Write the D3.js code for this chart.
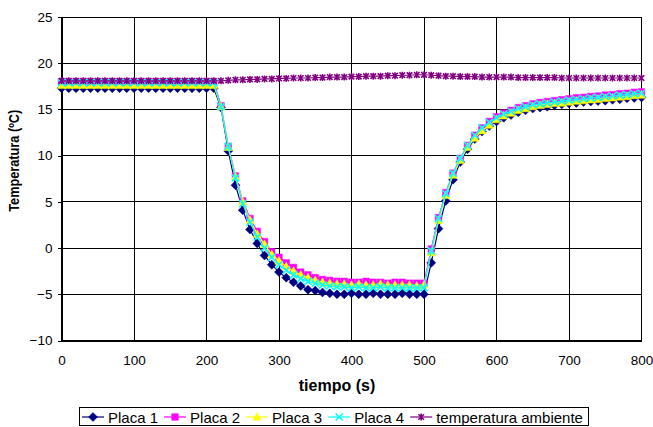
<!DOCTYPE html>
<html>
<head>
<meta charset="utf-8">
<script src="https://cdn.jsdelivr.net/npm/d3@7"></script>
<style>
  body { margin: 0; background: #fff; }
  svg { display: block; font-family: Arial, "Liberation Sans", sans-serif; }
</style>
</head>
<body>
<script>
var w = 653;
var h = 427;

// tiempo (s)
var tiempo = [
  0, 10, 20, 30, 40, 50, 60, 70, 80, 90, 100, 110, 120, 130, 140, 150, 160, 170, 180, 190,
  200, 210, 220, 230, 240, 250, 260, 270, 280, 290, 300, 310, 320, 330, 340, 350, 360, 370, 380, 390,
  400, 410, 420, 430, 440, 450, 460, 470, 480, 490, 500, 510, 520, 530, 540, 550, 560, 570, 580, 590,
  600, 610, 620, 630, 640, 650, 660, 670, 680, 690, 700, 710, 720, 730, 740, 750, 760, 770, 780, 790,
  800
];

var placa1 = [
  17.3, 17.3, 17.3, 17.3, 17.3, 17.3, 17.3, 17.3, 17.3, 17.3, 17.3, 17.3, 17.3, 17.3, 17.3, 17.3, 17.3, 17.3, 17.3, 17.3,
  17.3, 17.3, 15.2, 10.5, 6.8, 4.1, 2.0, 0.5, -0.8, -1.8, -2.6, -3.2, -3.7, -4.1, -4.5, -4.6, -4.8, -4.9, -5.0, -5.0,
  -4.9, -5.0, -5.0, -4.9, -5.0, -5.0, -5.0, -4.9, -5.0, -5.0, -5.0, -1.6, 2.1, 5.1, 7.4, 9.3, 10.7, 11.8, 12.6, 13.2,
  13.7, 14.1, 14.4, 14.7, 14.9, 15.1, 15.2, 15.3, 15.45, 15.55, 15.65, 15.7, 15.8, 15.85, 15.9, 15.95, 16.05, 16.1, 16.2, 16.25,
  16.3
];

var placa2 = [
  18.0, 18.0, 18.0, 18.0, 18.0, 18.0, 18.0, 18.0, 18.0, 18.0, 18.0, 18.0, 18.0, 18.0, 18.0, 18.0, 18.0, 18.0, 18.0, 18.0,
  18.0, 18.0, 15.4, 11.0, 7.8, 5.1, 3.2, 1.8, 0.7, -0.4, -1.0, -1.6, -2.1, -2.6, -2.9, -3.2, -3.4, -3.5, -3.6, -3.6,
  -3.7, -3.7, -3.6, -3.7, -3.7, -3.8, -3.7, -3.7, -3.8, -3.8, -3.8, -0.1, 3.3, 6.0, 8.1, 9.7, 11.1, 12.2, 13.0, 13.7,
  14.2, 14.6, 14.9, 15.2, 15.4, 15.6, 15.75, 15.85, 15.95, 16.05, 16.15, 16.25, 16.3, 16.4, 16.45, 16.55, 16.6, 16.7, 16.75, 16.85,
  16.9
];

var placa3 = [
  17.6, 17.6, 17.6, 17.6, 17.6, 17.6, 17.6, 17.6, 17.6, 17.6, 17.6, 17.6, 17.6, 17.6, 17.6, 17.6, 17.6, 17.6, 17.6, 17.6,
  17.6, 17.6, 15.3, 10.9, 7.7, 5.0, 3.0, 1.5, 0.4, -0.7, -1.4, -2.0, -2.5, -2.9, -3.2, -3.5, -3.7, -3.8, -3.9, -3.9,
  -4.0, -3.9, -4.0, -4.0, -3.9, -4.0, -4.0, -4.0, -4.0, -4.1, -4.0, -0.5, 3.0, 5.7, 7.9, 9.5, 10.9, 11.9, 12.7, 13.3,
  13.9, 14.3, 14.6, 14.9, 15.1, 15.3, 15.45, 15.55, 15.65, 15.7, 15.8, 15.9, 15.95, 16.05, 16.1, 16.2, 16.25, 16.35, 16.4, 16.5,
  16.55
];

var placa4 = [
  17.9, 17.9, 17.9, 17.9, 17.9, 17.9, 17.9, 17.9, 17.9, 17.9, 17.9, 17.9, 17.9, 17.9, 17.9, 17.9, 17.9, 17.9, 17.9, 17.9,
  17.9, 17.9, 15.3, 11.0, 7.6, 4.8, 2.8, 1.2, 0.0, -1.0, -1.8, -2.4, -2.9, -3.3, -3.6, -3.8, -4.0, -4.1, -4.2, -4.2,
  -4.3, -4.2, -4.3, -4.3, -4.2, -4.3, -4.3, -4.3, -4.3, -4.3, -4.3, -0.3, 3.2, 5.9, 8.1, 9.7, 11.1, 12.2, 13.0, 13.6,
  14.1, 14.5, 14.8, 15.1, 15.3, 15.5, 15.6, 15.7, 15.8, 15.9, 16.0, 16.1, 16.15, 16.25, 16.3, 16.4, 16.45, 16.55, 16.6, 16.7,
  16.75
];

var ambiente = [
  18.1, 18.1, 18.1, 18.1, 18.1, 18.1, 18.1, 18.1, 18.1, 18.1, 18.1, 18.1, 18.1, 18.1, 18.1, 18.1, 18.1, 18.1, 18.1, 18.1,
  18.1, 18.1, 18.1, 18.15, 18.2, 18.2, 18.25, 18.25, 18.3, 18.3, 18.35, 18.35, 18.4, 18.4, 18.4, 18.45, 18.45, 18.5, 18.5, 18.5,
  18.55, 18.55, 18.6, 18.6, 18.6, 18.65, 18.65, 18.7, 18.7, 18.75, 18.75, 18.7, 18.65, 18.6, 18.6, 18.55, 18.55, 18.55, 18.5, 18.5,
  18.5, 18.5, 18.5, 18.45, 18.45, 18.45, 18.45, 18.45, 18.45, 18.4, 18.4, 18.4, 18.4, 18.4, 18.4, 18.4, 18.4, 18.4, 18.4, 18.4,
  18.4
];

var xTicks = [0, 100, 200, 300, 400, 500, 600, 700, 800];
var yTicks = [-10, -5, 0, 5, 10, 15, 20, 25];

var seriesNames = ["Placa 1", "Placa 2", "Placa 3", "Placa 4", "temperatura ambiente"];
var seriesColors = ["#000080", "#ff00ff", "#ffff00", "#00ffff", "#800080"];
var seriesMarkers = ["diamond", "square", "triangle", "x", "star"];
var seriesValues = [placa1, placa2, placa3, placa4, ambiente];

var series = seriesNames.map(function (name, i) {
  return {
    name: name,
    color: seriesColors[i],
    marker: seriesMarkers[i],
    values: tiempo.map(function (t, j) { return { t: t, v: seriesValues[i][j] }; })
  };
});

var plot = { left: 61.5, right: 641.5, top: 17, bottom: 340.5 };

var xScale = d3.scaleLinear().domain([0, 800]).range([plot.left, plot.right]);
var yScale = d3.scaleLinear().domain([-10, 25]).range([plot.bottom, plot.top]);

//Create SVG element
var svg = d3.select("body").append("svg").attr("width", w).attr("height", h);

//Grid
var grid = svg.append("g").attr("shape-rendering", "crispEdges");
grid.selectAll("line.hg")
  .data(yTicks)
  .enter()
  .append("line")
  .attr("x1", plot.left).attr("x2", plot.right)
  .attr("y1", function (d) { return yScale(d); })
  .attr("y2", function (d) { return yScale(d); })
  .attr("stroke", "#000").attr("stroke-width", 1);
grid.selectAll("line.vg")
  .data(xTicks)
  .enter()
  .append("line")
  .attr("y1", plot.top).attr("y2", plot.bottom)
  .attr("x1", function (d) { return xScale(d); })
  .attr("x2", function (d) { return xScale(d); })
  .attr("stroke", "#000").attr("stroke-width", 1);

//Axes
var yAxis = d3.axisLeft(yScale).tickValues(yTicks).tickSize(4).tickPadding(5).tickSizeOuter(0);
var gy = svg.append("g").attr("transform", "translate(" + plot.left + ",0)").call(yAxis);
gy.selectAll("text").attr("font-size", "13.5px").attr("font-family", "Arial, 'Liberation Sans', sans-serif").attr("fill", "#000");
gy.selectAll("line").attr("stroke", "#000").attr("shape-rendering", "crispEdges");
gy.select(".domain").attr("stroke", "#000").attr("shape-rendering", "crispEdges");

var xAxis = d3.axisBottom(xScale).tickValues(xTicks).tickSize(0).tickPadding(15).tickSizeOuter(0);
var gx = svg.append("g").attr("transform", "translate(0," + plot.bottom + ")").call(xAxis);
gx.selectAll("text").attr("font-size", "13.5px").attr("font-family", "Arial, 'Liberation Sans', sans-serif").attr("fill", "#000");
gx.select(".domain").attr("stroke", "#000").attr("shape-rendering", "crispEdges");

//Axis titles
svg.append("text")
  .attr("x", 337).attr("y", 391)
  .attr("text-anchor", "middle")
  .attr("font-size", "16px").attr("font-weight", "bold")
  .text("tiempo (s)");

svg.append("text")
  .attr("transform", "translate(19," + ((plot.top + plot.bottom) / 2 - 18) + ") rotate(-90)")
  .attr("text-anchor", "middle")
  .attr("font-size", "15px").attr("font-weight", "bold")
  .attr("textLength", 102).attr("lengthAdjust", "spacingAndGlyphs")
  .text("Temperatura (ºC)");

//Marker shapes
function markerPath(type) {
  if (type === "diamond") return "M0,-4.5L4.5,0L0,4.5L-4.5,0Z";
  if (type === "square") return "M-3.3,-3.3H3.3V3.3H-3.3Z";
  if (type === "triangle") return "M0,-4.5L4.2,3.2L-4.2,3.2Z";
  if (type === "x") return "M-3.5,-3.5L3.5,3.5M-3.5,3.5L3.5,-3.5";
  return "M-2.8,-2.8L2.8,2.8M-2.8,2.8L2.8,-2.8M0,-3.5V3.5";
}
function isStroke(type) { return type === "x" || type === "star"; }

var line = d3.line()
  .x(function (d) { return xScale(d.t); })
  .y(function (d) { return yScale(d.v); });

//Series: line then markers, in Excel order
series.forEach(function (s) {
  var g = svg.append("g");
  g.append("path")
    .datum(s.values)
    .attr("d", line)
    .attr("fill", "none")
    .attr("stroke", s.color)
    .attr("stroke-width", 1.2);
  g.selectAll("path.m")
    .data(s.values)
    .enter()
    .append("path")
    .attr("class", "m")
    .attr("transform", function (d) { return "translate(" + xScale(d.t) + "," + yScale(d.v) + ")"; })
    .attr("d", markerPath(s.marker))
    .attr("fill", isStroke(s.marker) ? "none" : s.color)
    .attr("stroke", s.color)
    .attr("stroke-width", isStroke(s.marker) ? 1.6 : 0.5);
});

//Legend
var legend = svg.append("g");
var legendBox = legend.append("rect")
  .attr("y", 407.5).attr("height", 18)
  .attr("fill", "#fff").attr("stroke", "#000").attr("stroke-width", 1)
  .attr("shape-rendering", "crispEdges");

var cx = 82;
series.forEach(function (s, i) {
  var ly = 417;
  legend.append("line")
    .attr("x1", cx).attr("x2", cx + 22)
    .attr("y1", ly).attr("y2", ly)
    .attr("stroke", s.color).attr("stroke-width", 1.2);
  legend.append("path")
    .attr("transform", "translate(" + (cx + 11) + "," + ly + ")")
    .attr("d", markerPath(s.marker))
    .attr("fill", isStroke(s.marker) ? "none" : s.color)
    .attr("stroke", s.color)
    .attr("stroke-width", isStroke(s.marker) ? 1.6 : 0.5);
  var t = legend.append("text")
    .attr("x", cx + 26).attr("y", 423)
    .attr("font-size", "15px")
    .text(s.name);
  cx = cx + 26 + t.node().getComputedTextLength() + 6;
});
legendBox.attr("x", 79.5).attr("width", cx - 79.5);
</script>
</body>
</html>
